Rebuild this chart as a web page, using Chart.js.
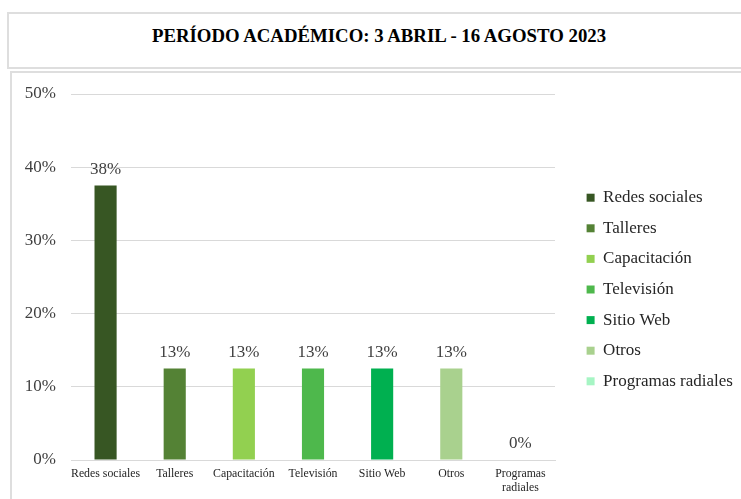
<!DOCTYPE html>
<html lang="es">
<head>
<meta charset="utf-8">
<title>Período académico</title>
<script src="https://cdn.jsdelivr.net/npm/chart.js@4/dist/chart.umd.min.js"></script>
<style>
    body { margin: 0; background: #fff; width: 741px; height: 499px; overflow: hidden; position: relative; }
    .caja-titulo {
        position: absolute; left: 7px; top: 12px; width: 744px; height: 57px;
        box-sizing: border-box; border: 2px solid #dedede;
        font-family: "Liberation Serif", "DejaVu Serif", serif; font-weight: bold;
        font-size: 18.8px; color: #000; text-align: center; line-height: 44px;
    }
    .caja-grafico {
        position: absolute; left: 10px; top: 71px; width: 800px; height: 500px;
        box-sizing: border-box; border: 2px solid #dedede;
    }
    #grafico { position: absolute; left: 0; top: 0; }
</style>
</head>
<body>
<div class="caja-titulo">PERÍODO ACADÉMICO: 3 ABRIL - 16 AGOSTO 2023</div>
<div class="caja-grafico"></div>
<canvas id="grafico" width="741" height="499"></canvas>
<script>
// datos del gráfico
const categorias = ['Redes sociales', 'Talleres', 'Capacitación', 'Televisión', 'Sitio Web', 'Otros', 'Programas radiales'];
const valores = [37.5, 12.5, 12.5, 12.5, 12.5, 12.5, 0];
const colores = ['#375623', '#548235', '#92d050', '#4eb84c', '#00b050', '#a9d18e', '#a6f5c4'];
const ticksY = [0, 10, 20, 30, 40, 50];

const fuente = '"Liberation Serif", "DejaVu Serif", serif';
const colorTexto = '#404040';

// etiquetas de valor encima de cada barra
const etiquetasValor = {
    id: 'etiquetasValor',
    afterDatasetsDraw(chart) {
        const ctx = chart.ctx;
        const meta = chart.getDatasetMeta(0);
        ctx.save();
        ctx.font = '17px ' + fuente;
        ctx.fillStyle = colorTexto;
        ctx.textAlign = 'center';
        ctx.textBaseline = 'alphabetic';
        meta.data.forEach((barra, i) => {
            ctx.fillText(Math.round(valores[i]) + '%', barra.x, barra.y - 12);
        });
        ctx.restore();
    }
};

// ejes vacíos solo para reservar espacio
const ejeVacio = (posicion, tam) => ({
    type: 'linear',
    position: posicion,
    display: true,
    grid: { display: false },
    border: { display: false },
    ticks: { display: false },
    afterFit: s => {
        if (posicion === 'top') s.height = tam; else s.width = tam;
    }
});

function crearGrafico() {
    const ctx = document.getElementById('grafico').getContext('2d');
    return new Chart(ctx, {
        type: 'bar',
        data: {
            labels: categorias,
            datasets: [{
                data: valores,
                backgroundColor: colores,
                borderWidth: 0,
                barPercentage: 0.32,
                categoryPercentage: 1
            }]
        },
        options: {
            responsive: false,
            animation: false,
            layout: { padding: { top: 80, left: 0, right: 0, bottom: 0 } },
            plugins: {
                title: { display: false },
                tooltip: { enabled: false },
                legend: {
                    position: 'right',
                    align: 'center',
                    maxWidth: 168,
                    labels: {
                        font: { family: fuente, size: 17 },
                        color: '#262626',
                        boxWidth: 8,
                        boxHeight: 8,
                        padding: 13.6,
                        generateLabels: () => categorias.map((c, i) => ({
                            text: c,
                            fillStyle: colores[i],
                            strokeStyle: colores[i],
                            lineWidth: 0,
                            fontColor: '#262626',
                            hidden: false,
                            index: i
                        }))
                    }
                }
            },
            scales: {
                x: {
                    grid: { display: false, drawTicks: false },
                    border: { display: true, color: '#d9d9d9', width: 1 },
                    ticks: {
                        padding: 7,
                        font: { family: fuente, size: 11.8 },
                        color: '#262626',
                        maxRotation: 0,
                        autoSkip: false,
                        callback: function (v) {
                            const t = this.getLabelForValue(v);
                            return t.length > 15 ? t.split(' ') : t;
                        }
                    },
                    afterFit: s => { s.height = 39; }
                },
                y: {
                    min: 0,
                    max: 50,
                    afterBuildTicks: s => { s.ticks = ticksY.map(v => ({ value: v })); },
                    grid: { color: '#d9d9d9', lineWidth: 1, drawTicks: false },
                    border: { display: false },
                    ticks: {
                        padding: 15,
                        font: { family: fuente, size: 17 },
                        color: colorTexto,
                        callback: v => v + '%'
                    },
                    afterFit: s => { s.width = 71; }
                },
                x2: ejeVacio('top', 14),
                y2: ejeVacio('right', 18)
            }
        },
        plugins: [etiquetasValor]
    });
}

// esperar a que la fuente serif esté lista antes de dibujar
Promise.all([
    document.fonts.load('16px "Liberation Serif"'),
    document.fonts.load('bold 16px "Liberation Serif"')
]).then(crearGrafico, crearGrafico);
</script>
</body>
</html>
